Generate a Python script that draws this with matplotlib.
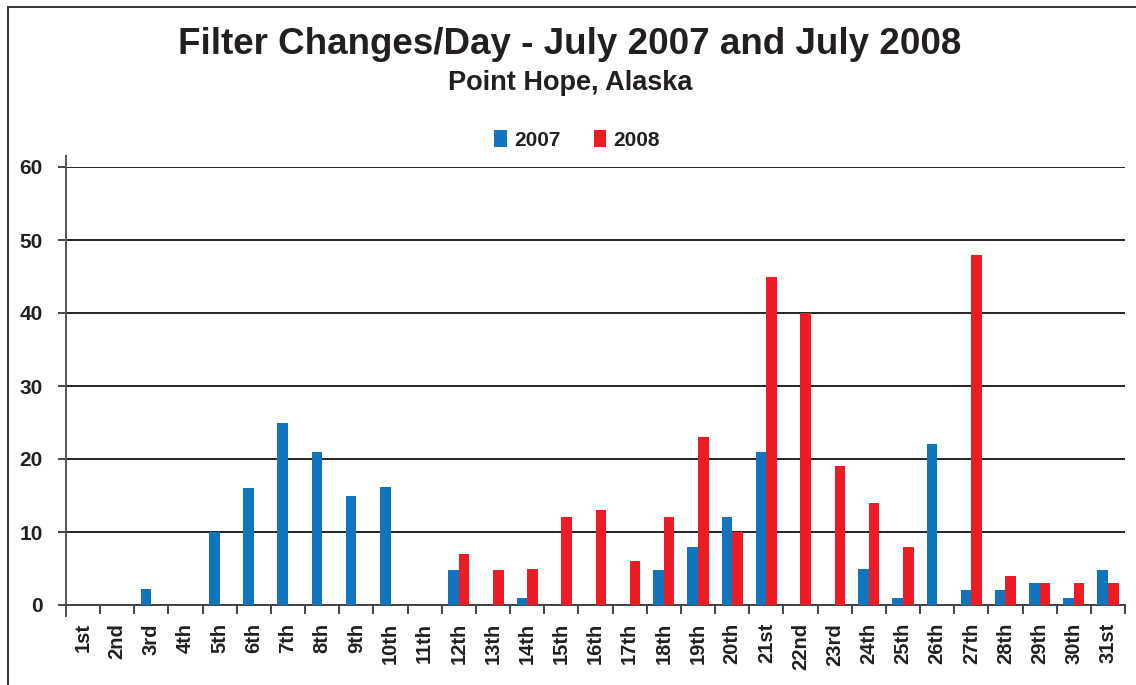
import numpy as np
import matplotlib.pyplot as plt
from matplotlib.patches import Rectangle

days = ["1st", "2nd", "3rd", "4th", "5th", "6th", "7th", "8th", "9th", "10th",
        "11th", "12th", "13th", "14th", "15th", "16th", "17th", "18th", "19th", "20th",
        "21st", "22nd", "23rd", "24th", "25th", "26th", "27th", "28th", "29th", "30th", "31st"]
changes_2007 = [0, 0, 2.2, 0, 10, 16, 25, 21, 15, 16.2,
                0, 4.8, 0, 1, 0, 0, 0, 4.8, 8, 12,
                21, 0, 0, 5, 1, 22, 2, 2, 3, 1, 4.8]
changes_2008 = [0, 0, 0, 0, 0, 0, 0, 0, 0, 0,
                0, 7, 4.8, 5, 12, 13, 6, 12, 23, 10,
                45, 40, 19, 14, 8, 0, 48, 4, 3, 3, 3]

plt.rcParams['font.family'] = ['Liberation Sans', 'DejaVu Sans']
txt = '#231f20'

fig = plt.figure(figsize=(11.36, 6.85), dpi=100)
ax = fig.add_axes([66/1136, 1 - 605/685, (1125-66)/1136, (605-167)/685])

x = np.arange(len(days))
w = 0.31
ax.bar(x - w/2, changes_2007, w, color='#1274bc', label='2007', zorder=3)
ax.bar(x + w/2, changes_2008, w, color='#ed1c24', label='2008', zorder=3)

ax.set_xlim(-0.5, len(days) - 0.5)
ax.set_ylim(0, 60)
ax.set_yticks(range(0, 61, 10))
ax.yaxis.grid(True, color='#222222', linewidth=1.4)
ax.set_axisbelow(True)

ax.set_xticks(x)
ax.set_xticklabels(days, rotation=90, fontsize=14.5, fontweight='bold', color=txt)
ax.set_xticks(np.arange(-0.5, len(days)), minor=True)
ax.tick_params(axis='x', which='major', length=0, pad=13)
ax.tick_params(axis='x', which='minor', length=6.5, width=1.4, color='#444444', direction='out')
ax.tick_params(axis='y', length=5.8, width=1.4, color='#444444', direction='out',
               labelsize=15, pad=11, labelcolor=txt)
for lbl in ax.get_yticklabels():
    lbl.set_fontweight('bold')

for s in ['top', 'right']:
    ax.spines[s].set_visible(False)
ax.spines['left'].set_color('#555555')
ax.spines['left'].set_linewidth(1.4)
ax.spines['left'].set_bounds(-1.5, 61.5)
ax.spines['bottom'].set_color('#444444')
ax.spines['bottom'].set_linewidth(1.4)

fig.text(570/1136, 1 - 45/685, "Filter Changes/Day - July 2007 and July 2008",
         ha='center', va='center', fontsize=26.5, fontweight='bold', color=txt)
fig.text(570/1136, 1 - 83/685, "Point Hope, Alaska", ha='center', va='center',
         fontsize=19.5, fontweight='bold', color=txt)

fig.legend(loc='center', bbox_to_anchor=(577/1136, 1 - 140/685), ncol=2, frameon=False,
           handlelength=0.6, handleheight=0.9, handletextpad=0.35,
           columnspacing=1.6, prop={'weight': 'bold', 'size': 15})
for t in fig.legends[0].get_texts():
    t.set_color(txt)

fig.patches.append(Rectangle((8/1136, -0.01), 1.2, 1 - 7/685 + 0.01, transform=fig.transFigure,
                             fill=False, edgecolor='#333333', linewidth=1.4))

fig.savefig('out.png', dpi=100)
